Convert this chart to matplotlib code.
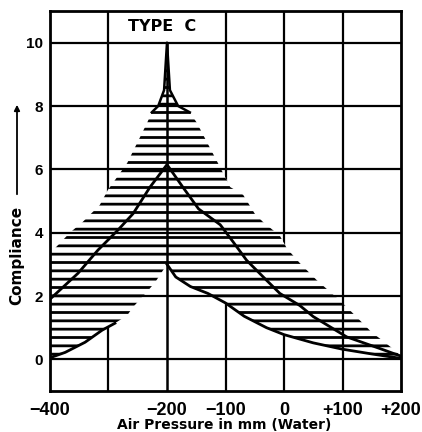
import matplotlib
matplotlib.use('Agg')
import matplotlib.pyplot as plt
from matplotlib.patches import FancyArrowPatch

# ---------------- data ----------------
# upper limit of the Type C region (compliance vs. air pressure, mm water)
outer_x = [-400, -383, -366, -344, -315, -301, -268, -250, -234, -226, -215, -205,
           -200, -195, -181, -161, -149, -132, -113, -92, -70, -50, -36, -7, 5,
           27, 56, 90, 110, 133, 150, 168, 185, 200]
outer_y = [3.35, 3.67, 4.0, 4.34, 4.87, 5.35, 6.2, 6.87, 7.47, 7.8, 8.0, 8.5,
           10.0, 8.5, 8.0, 7.8, 7.47, 6.87, 6.2, 5.44, 5.2, 4.6, 4.34, 3.9, 3.5,
           3.04, 2.5, 1.95, 1.6, 1.17, 0.85, 0.6, 0.35, 0.1]

# middle tympanogram
middle_x = [-400, -352, -318, -284, -258, -229, -200, -173, -146, -109, -87,
            -64, -30, -7, 27, 50, 107, 164, 200]
middle_y = [1.9, 2.72, 3.45, 4.08, 4.6, 5.44, 6.15, 5.44, 4.75, 4.25, 3.71,
            3.13, 2.5, 2.08, 1.7, 1.35, 0.71, 0.34, 0.1]

# lower limit of the region
lower_x = [-400, -374, -340, -311, -289, -268, -258, -232, -220, -209, -200,
           -185, -160, -130, -100, -68, -30, 0, 50, 100, 150, 200]
lower_y = [0.05, 0.22, 0.54, 0.92, 1.14, 1.39, 1.65, 2.18, 2.44, 2.75, 3.0,
           2.6, 2.3, 2.08, 1.78, 1.36, 1.0, 0.78, 0.52, 0.32, 0.17, 0.03]

x_ticks = [-400, -200, -100, 0, 100, 200]
x_tick_labels = ['\u2212400', '\u2212200', '\u2212100', '0', '+100', '+200']
y_ticks = [0, 2, 4, 6, 8, 10]
y_tick_labels = ['0', '2', '4', '6', '8', '10']
x_grid_behind = [-300, -100, 0]
x_grid_front = [100]
y_grid = [0, 2, 4, 6, 8, 10]

# ---------------- figure ----------------
plt.rcParams['font.family'] = ['Liberation Sans', 'DejaVu Sans']
plt.rcParams['hatch.linewidth'] = 2.0
plt.rcParams['hatch.color'] = 'black'

W, H = 422, 432
fig = plt.figure(figsize=(W / 100, H / 100), dpi=100)
ax = fig.add_axes([50 / W, 41 / H, 351 / W, 380 / H])
ax.set_xlim(-400, 200)
ax.set_ylim(-1, 11)

# grid lines
for v in x_grid_behind:
    ax.axvline(v, color='black', lw=1.6, zorder=1)
for v in x_grid_front:
    ax.axvline(v, color='black', lw=1.6, zorder=3)
ax.vlines(-200, -1, 10, color='black', lw=1.8, zorder=3)
for h in y_grid:
    ax.axhline(h, color='black', lw=1.6, zorder=3)

# hatched region between the upper and lower limits
poly_x = outer_x + lower_x[::-1]
poly_y = outer_y + lower_y[::-1]
ax.fill(poly_x, poly_y, facecolor='white', edgecolor='black', hatch='--',
        lw=0, zorder=2)

# outline at the top cusp
top_x = [x for x, y in zip(outer_x, outer_y) if y >= 7.8]
top_y = [y for y in outer_y if y >= 7.8]
ax.plot(top_x, top_y, color='black', lw=1.8, zorder=4)

# middle curve
ax.plot(middle_x, middle_y, color='black', lw=2.0, zorder=4)

# lower curve (drawn where it is a line in the reference)
lx1 = [x for x in lower_x if x <= -289]
ly1 = [y for x, y in zip(lower_x, lower_y) if x <= -289]
lx2 = [x for x in lower_x if x >= -200]
ly2 = [y for x, y in zip(lower_x, lower_y) if x >= -200]
ax.plot(lx1, ly1, color='black', lw=2.0, zorder=4)
ax.plot(lx2, ly2, color='black', lw=2.0, zorder=4)

# ticks
ax.set_xticks(x_ticks)
ax.set_xticklabels(x_tick_labels, fontsize=13, fontweight='bold')
ax.set_yticks(y_ticks)
ax.set_yticklabels(y_tick_labels, fontsize=11, fontweight='bold')
ax.tick_params(axis='both', length=0)
ax.tick_params(axis='x', pad=8)
ax.tick_params(axis='y', pad=5)

for s in ax.spines.values():
    s.set_linewidth(2.0)
    s.set_color('black')

# header label
ax.text(-208, 10.5, 'TYPE  C', ha='center', va='center', fontsize=11.5,
        fontweight='bold', family=['DejaVu Sans'], zorder=5)

# axis titles
fig.text(17 / W, 1 - 255 / H, 'Compliance', rotation=90, ha='center',
         va='center', fontsize=11, fontweight='bold', family=['DejaVu Sans'])
arrow = FancyArrowPatch((17 / W, 1 - 197 / H), (17 / W, 1 - 102 / H),
                        transform=fig.transFigure, arrowstyle='-|>',
                        mutation_scale=8, lw=1.3, color='black')
fig.add_artist(arrow)
fig.text(224 / W, 1 - 425 / H, 'Air Pressure in mm (Water)', ha='center',
         va='center', fontsize=10, fontweight='bold', family=['DejaVu Sans'])

fig.savefig('out.png', dpi=100, facecolor='white')
